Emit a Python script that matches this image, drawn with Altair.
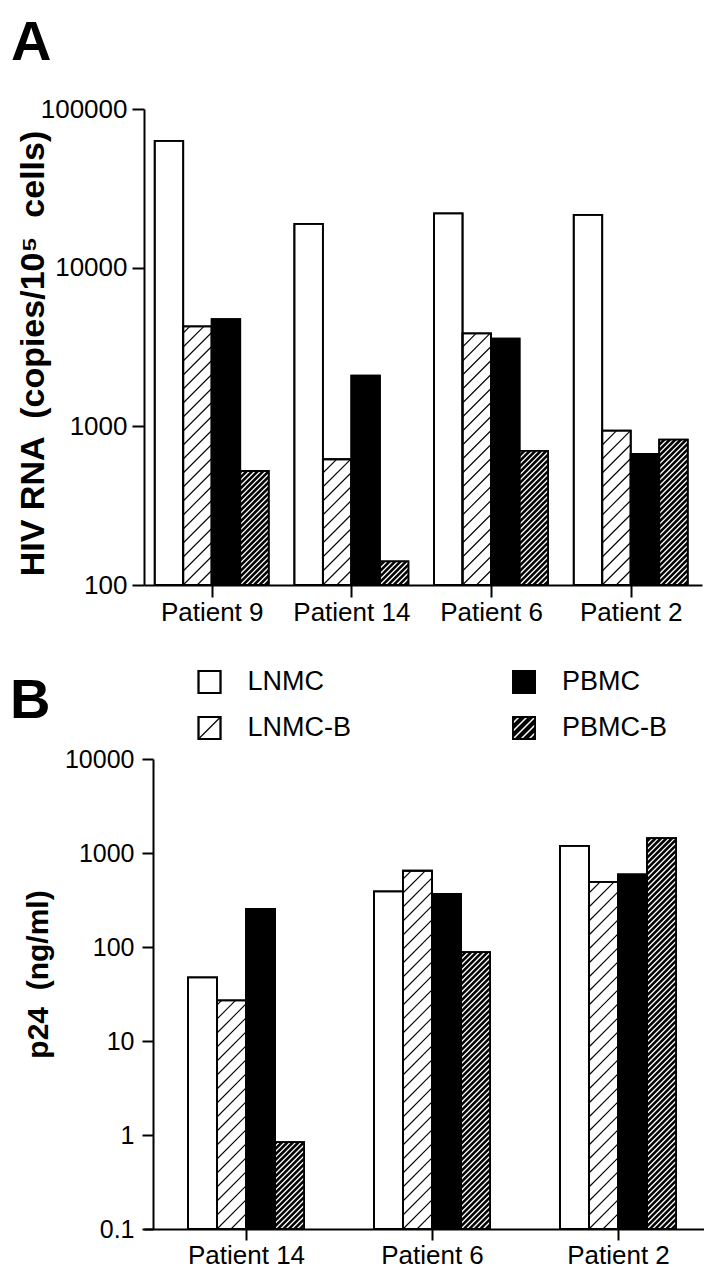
import math
import altair as alt
import pandas as pd

FONT = "Liberation Sans"
SERIES = ["LNMC", "LNMC-B", "PBMC", "PBMC-B"]
FILLS = ["white", "white", "black", "black"]

# ---- data: panel A (HIV RNA copies / 10^5 cells) ----
A_PATIENTS = ["Patient 9", "Patient 14", "Patient 6", "Patient 2"]
A_LNMC = [63000, 18900, 22000, 21500]
A_LNMC_B = [4270, 620, 3850, 940]
A_PBMC = [4730, 2090, 3570, 670]
A_PBMC_B = [523, 141, 700, 825]
A_YTICKS = [100, 1000, 10000, 100000]

# ---- data: panel B (p24 ng/ml) ----
B_PATIENTS = ["Patient 14", "Patient 6", "Patient 2"]
B_LNMC = [47.5, 390, 1190]
B_LNMC_B = [27, 647, 494]
B_PBMC = [255, 368, 592]
B_PBMC_B = [0.84, 88, 1440]
B_YTICKS = [0.1, 1, 10, 100, 1000, 10000]

# ---- layout / style ----
A_W, A_H = 558, 476
B_W, B_H = 560, 470
L_W, L_H = 558, 122
A_XDOM = [0.0153, 4.0104]
B_XDOM = [-0.0484, 2.9623]
A_BW = 0.204
B_BW = 0.156
LIGHT_GAP = 14
DARK_GAP = 5.5
LEG_XDOM = [-0.2083, 1.5659]
LEG_YDOM = [-1.239, 1.413]
SQ = 22
SP = " \u00a0"  # wide word gap (two spaces that do not collapse)


def hatch(x0, w_px, h_px, px_per_x, to_y, gap, phase=0.0):
    """45-degree hatch segments inside a w_px x h_px box (derived from bar geometry)."""
    segs = []
    k = math.floor((-w_px - phase) / gap)
    while True:
        c = phase + k * gap
        if c >= h_px:
            break
        a = max(0.0, -c)
        e = min(w_px, h_px - c)
        if e - a > 0.3:
            segs.append({"xa": x0 + a / px_per_x, "xb": x0 + e / px_per_x,
                         "ya": to_y(c + a), "yb": to_y(c + e)})
        k += 1
    return segs


def axis_common():
    return dict(domainColor="black", domainWidth=2, tickColor="black", tickWidth=2,
                labelFont=FONT, labelColor="black", grid=False,
                labelOverlap=False, labelFlush=False, titleColor="black")


def panel(patients, cols, bw, xdom, ydom, W, H, yticks, ytitle, ytitle_size,
          title_x, title_y, ylab_size, ylab_pad, ytick, yoffset, xlab_pad, xtick):
    U = W / (xdom[1] - xdom[0])
    lo = math.log10(ydom[0])
    D = H / (math.log10(ydom[1]) - lo)
    bars, light, dark = [], [], []
    for i, p in enumerate(patients):
        for j, s in enumerate(SERIES):
            v = cols[j][i]
            xa = i + 0.5 + (j - 2) * bw
            bars.append({"patient": p, "series": s, "xa": xa, "xb": xa + bw,
                         "ya": v, "yb": ydom[0]})
            if s in ("LNMC-B", "PBMC-B"):
                hpx = (math.log10(v) - lo) * D
                to_y = (lambda q, lo=lo, D=D: 10 ** (lo + q / D))
                if s == "LNMC-B":
                    light += hatch(xa, bw * U, hpx, U, to_y, LIGHT_GAP)
                else:
                    dark += hatch(xa, bw * U, hpx, U, to_y, DARK_GAP)

    label_expr = "[" + ",".join("'%s'" % p for p in patients) + "][round(datum.value - 0.5)]"
    x = alt.X("xa:Q", scale=alt.Scale(domain=xdom, nice=False, zero=False),
              axis=alt.Axis(values=[i + 0.5 for i in range(len(patients))],
                            labelExpr=label_expr, title=None, labelFontSize=26,
                            labelPadding=xlab_pad, tickSize=xtick, **axis_common()))
    y = alt.Y("ya:Q", scale=alt.Scale(type="log", domain=ydom, nice=False),
              axis=alt.Axis(values=yticks, format="~g", title=ytitle,
                            titleFont=FONT, titleFontSize=ytitle_size, titleFontWeight="bold",
                            titleX=title_x, titleY=title_y, offset=yoffset,
                            labelFontSize=ylab_size, labelPadding=ylab_pad, tickSize=ytick,
                            **axis_common()))
    fill = alt.Fill("series:N", scale=alt.Scale(domain=SERIES, range=FILLS), legend=None)

    l1 = alt.Chart(pd.DataFrame(bars)).mark_rect(stroke="black", strokeWidth=1.8).encode(
        x=x, x2="xb:Q", y=y, y2="yb:Q", fill=fill)
    l2 = alt.Chart(pd.DataFrame(light)).mark_rule(color="black", strokeWidth=1.1).encode(
        x=x, x2="xb:Q", y=y, y2="yb:Q")
    l3 = alt.Chart(pd.DataFrame(dark)).mark_rule(color="white", strokeWidth=1.3).encode(
        x=x, x2="xb:Q", y=y, y2="yb:Q")
    l4 = alt.Chart(pd.DataFrame(bars)).mark_rect(fillOpacity=0, stroke="black", strokeWidth=1.8).encode(
        x=x, x2="xb:Q", y=y, y2="yb:Q")
    return alt.layer(l1, l2, l3, l4).properties(width=W, height=H)


A = panel(A_PATIENTS, [A_LNMC, A_LNMC_B, A_PBMC, A_PBMC_B], A_BW, A_XDOM, [100, 100000],
          A_W, A_H, A_YTICKS, "HIV RNA" + SP + "(copies/10\u2075" + SP + "cells)", 34, -94, 244,
          26, 5, 12, 0, 2, 12).properties(
    title=alt.TitleParams("A", anchor="start", fontSize=56, fontWeight="bold", font=FONT,
                          color="black", dx=-5, offset=24.5))

B = panel(B_PATIENTS, [B_LNMC, B_LNMC_B, B_PBMC, B_PBMC_B], B_BW, B_XDOM, [0.1, 10000],
          B_W, B_H, B_YTICKS, "p24" + SP + "(ng/ml)", 30, -100, 215,
          25, 8, 11, -9, 2, 11)

# ---- legend (built from the series list) ----
Ux = L_W / (LEG_XDOM[1] - LEG_XDOM[0])
Uy = L_H / (LEG_YDOM[1] - LEG_YDOM[0])
hw, hh = SQ / 2 / Ux, SQ / 2 / Uy
leg, leg_light, leg_dark = [], [], []
for idx, s in enumerate(SERIES):
    col, row = idx // 2, idx % 2
    leg.append({"series": s, "row": row, "xa": col - hw, "xb": col + hw,
                "ya": row - hh, "yb": row + hh})
    to_y = (lambda q, b=row + hh: b - q / Uy)
    if s == "LNMC-B":
        leg_light += hatch(col - hw, SQ, SQ, Ux, to_y, 100)
    elif s == "PBMC-B":
        leg_dark += hatch(col - hw, SQ, SQ, Ux, to_y, 8)

lx = alt.X("xa:Q", scale=alt.Scale(domain=LEG_XDOM, nice=False, zero=False), axis=None)
ly = alt.Y("ya:Q", scale=alt.Scale(domain=LEG_YDOM, nice=False, zero=False, reverse=True), axis=None)
lfill = alt.Fill("series:N", scale=alt.Scale(domain=SERIES, range=FILLS), legend=None)
g1 = alt.Chart(pd.DataFrame(leg)).mark_rect(stroke="black", strokeWidth=1.8).encode(
    x=lx, x2="xb:Q", y=ly, y2="yb:Q", fill=lfill)
g2 = alt.Chart(pd.DataFrame(leg_light)).mark_rule(color="black", strokeWidth=1.2).encode(
    x=lx, x2="xb:Q", y=ly, y2="yb:Q")
g3 = alt.Chart(pd.DataFrame(leg_dark)).mark_rule(color="white", strokeWidth=1.5).encode(
    x=lx, x2="xb:Q", y=ly, y2="yb:Q")
g4 = alt.Chart(pd.DataFrame(leg)).mark_rect(fillOpacity=0, stroke="black", strokeWidth=1.8).encode(
    x=lx, x2="xb:Q", y=ly, y2="yb:Q")
g5 = alt.Chart(pd.DataFrame(leg)).mark_text(
    align="left", baseline="middle", dx=27, font=FONT, fontSize=27, color="black").encode(
    x=alt.X("xb:Q", scale=alt.Scale(domain=LEG_XDOM, nice=False, zero=False), axis=None),
    y=alt.Y("row:Q", scale=alt.Scale(domain=LEG_YDOM, nice=False, zero=False, reverse=True), axis=None),
    text="series:N")
L = alt.layer(g1, g2, g3, g4, g5).properties(
    width=L_W, height=L_H,
    title=alt.TitleParams("B", anchor="start", frame="group", fontSize=56, fontWeight="bold",
                          font=FONT, color="black", offset=0, dx=-134, dy=105))

chart = alt.vconcat(A, L, B, spacing=0).properties(
    padding={"left": 2, "top": 6, "right": 0, "bottom": 0},
    background="white",
).configure_view(stroke=None)

chart.save("out.html", embed_options={"renderer": "svg", "actions": False})
